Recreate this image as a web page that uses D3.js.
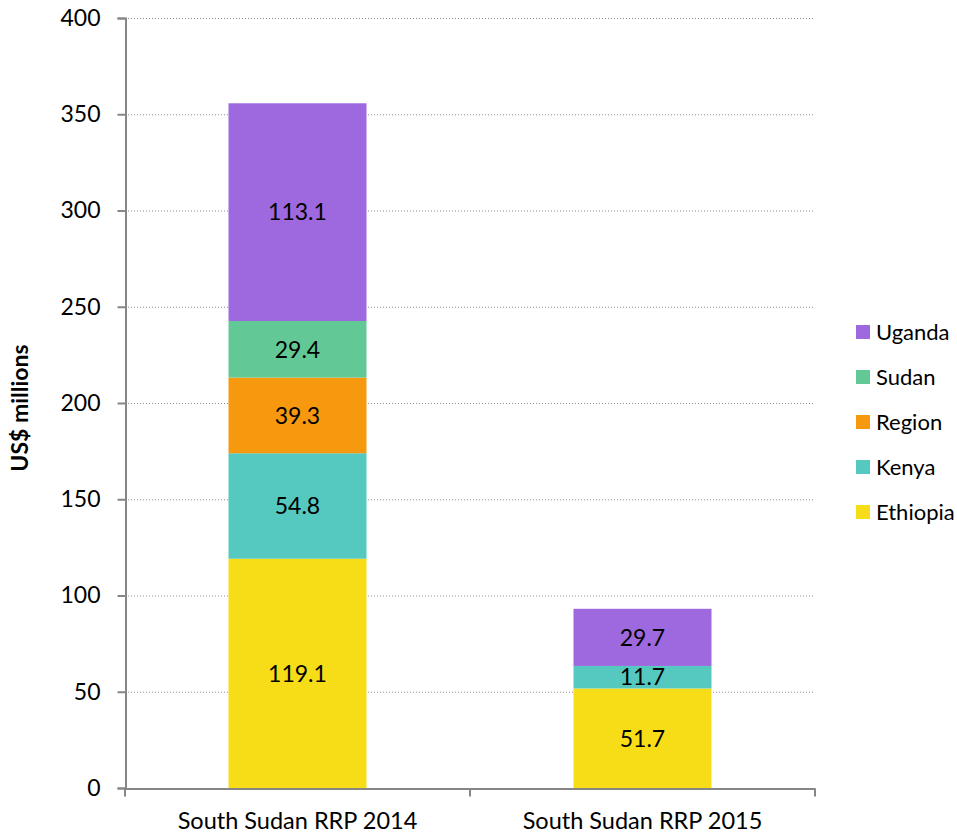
<!DOCTYPE html>
<html>
<head>
<meta charset="utf-8">
<script src="https://cdn.jsdelivr.net/npm/d3@7"></script>
<style>
  body { margin: 0; background: #fff; }
  svg { font-family: Lato, "Open Sans", sans-serif; }
</style>
</head>
<body>
<div id="chart"></div>
<script>
// chart data
var categories = ["South Sudan RRP 2014", "South Sudan RRP 2015"];
var seriesNames = ["Ethiopia", "Kenya", "Region", "Sudan", "Uganda"];
var ethiopia = [119.1, 51.7];
var kenya = [54.8, 11.7];
var region = [39.3, 0];
var sudan = [29.4, 0];
var uganda = [113.1, 29.7];
var yTicks = [0, 50, 100, 150, 200, 250, 300, 350, 400];
var colors = ["#f7dc18", "#55c9c0", "#f7990f", "#62c996", "#9e69de"];

var seriesValues = [ethiopia, kenya, region, sudan, uganda];
var rows = categories.map(function(c, i) {
    var r = {cat: c};
    seriesNames.forEach(function(s, j) { r[s] = seriesValues[j][i]; });
    return r;
});

var width = 957, height = 835;
var plotLeft = 125, plotRight = 815, plotTop = 18, plotBottom = 788;
var fontFam = "Lato, 'Open Sans', sans-serif";

var svg = d3.select("#chart").append("svg")
    .attr("width", width)
    .attr("height", height);

var x = d3.scaleBand().domain(categories).range([plotLeft, plotRight]).paddingInner(0).paddingOuter(0);
var y = d3.scaleLinear().domain([0, 400]).range([plotBottom, plotTop]);
var color = d3.scaleOrdinal().domain(seriesNames).range(colors);

// gridlines
svg.append("g").selectAll("line")
    .data(yTicks.filter(function(d) { return d > 0; }))
    .enter().append("line")
    .attr("x1", plotLeft).attr("x2", plotRight)
    .attr("y1", function(d) { return y(d) + 0.5; })
    .attr("y2", function(d) { return y(d) + 0.5; })
    .attr("stroke", "#8c8c8c")
    .attr("stroke-width", 1)
    .attr("stroke-dasharray", "1,2");

var stack = d3.stack().keys(seriesNames);
var layers = stack(rows);
var barW = 138;

var layer = svg.append("g").selectAll("g")
    .data(layers)
    .enter().append("g")
    .attr("fill", function(d) { return color(d.key); });

layer.selectAll("rect")
    .data(function(d) { return d; })
    .enter().append("rect")
    .attr("x", function(d) { return x(d.data.cat) + x.bandwidth() / 2 - barW / 2; })
    .attr("width", barW)
    .attr("y", function(d) { return y(d[1]); })
    .attr("height", function(d) { return y(d[0]) - y(d[1]); });

// value labels
layer.selectAll("text")
    .data(function(d) { return d.filter(function(p) { return p[1] - p[0] > 0; }); })
    .enter().append("text")
    .attr("x", function(d) { return x(d.data.cat) + x.bandwidth() / 2; })
    .attr("y", function(d) { return y((d[0] + d[1]) / 2); })
    .attr("dy", "0.36em")
    .attr("text-anchor", "middle")
    .attr("fill", "#000")
    .style("font-size", "23px")
    .text(function(d) { return (d[1] - d[0]).toFixed(1); });

// y axis
var yAxis = svg.append("g")
    .attr("transform", "translate(" + (plotLeft + 0.5) + ",0)")
    .call(d3.axisLeft(y).tickValues(yTicks).tickSize(8).tickPadding(17))
    .attr("font-family", fontFam);
yAxis.select(".domain").attr("stroke", "#868686").attr("stroke-width", 2);
yAxis.selectAll(".tick line").attr("stroke", "#868686").attr("stroke-width", 2);
yAxis.selectAll("text").style("font-size", "23px").attr("fill", "#000");

// x axis
var xAxis = svg.append("g")
    .attr("transform", "translate(0," + (plotBottom + 0.5) + ")")
    .call(d3.axisBottom(x).tickSize(0).tickPadding(24))
    .attr("font-family", fontFam);
xAxis.select(".domain").attr("stroke", "#868686").attr("stroke-width", 2);
xAxis.selectAll("text").style("font-size", "23.5px").attr("fill", "#000");
xAxis.append("g").selectAll("line")
    .data([plotLeft, x(categories[1]), plotRight])
    .enter().append("line")
    .attr("x1", function(d) { return d; }).attr("x2", function(d) { return d; })
    .attr("y1", 0).attr("y2", 8)
    .attr("stroke", "#868686").attr("stroke-width", 2);

// y title
svg.append("text")
    .attr("transform", "translate(28," + 408 + ") rotate(-90)")
    .attr("text-anchor", "middle")
    .style("font-size", "23px")
    .style("font-weight", "bold")
    .text("US$ millions");

// legend
var legend = svg.append("g").selectAll("g")
    .data(seriesNames.slice().reverse())
    .enter().append("g")
    .attr("transform", function(d, i) { return "translate(856," + (332 + i * 45) + ")"; });
legend.append("rect")
    .attr("x", 0).attr("y", -7)
    .attr("width", 14).attr("height", 14)
    .attr("fill", function(d) { return color(d); });
legend.append("text")
    .attr("x", 20).attr("dy", "0.36em")
    .style("font-size", "22px")
    .text(function(d) { return d; });
</script>
</body>
</html>
